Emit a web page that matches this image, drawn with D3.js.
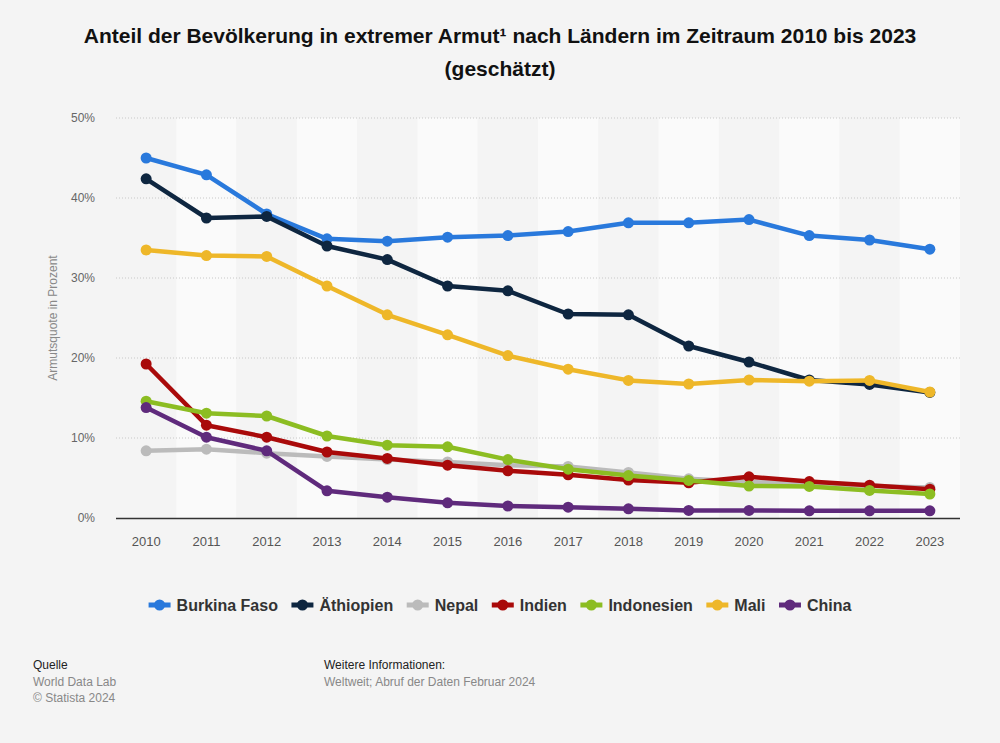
<!DOCTYPE html>
<html><head><meta charset="utf-8">
<script src="https://cdn.jsdelivr.net/npm/d3@7"></script>
<style>
body{margin:0;background:#f4f4f4;}
svg{display:block;font-family:"Liberation Sans",Arial,sans-serif;}
</style></head>
<body>
<svg id="c" width="1000" height="743"></svg>
<script>
const years = [2010,2011,2012,2013,2014,2015,2016,2017,2018,2019,2020,2021,2022,2023];
const seriesNames = ["Burkina Faso","Äthiopien","Nepal","Indien","Indonesien","Mali","China"];
const seriesColors = ["#2979dc","#0e2640","#bbbbbb","#a90a0a","#8cbd22","#eeb729","#5f2a7c"];
const burkinaFaso = [45.0,42.9,38.0,34.9,34.6,35.1,35.3,35.8,36.9,36.9,37.3,35.3,34.75,33.6];
const aethiopien = [42.4,37.5,37.7,34.0,32.3,29.0,28.4,25.5,25.4,21.5,19.5,17.25,16.7,15.7];
const nepal = [8.4,8.6,8.1,7.7,7.3,7.0,6.6,6.45,5.7,4.9,4.5,4.3,4.0,3.8];
const indien = [19.25,11.6,10.1,8.25,7.45,6.6,5.9,5.4,4.75,4.4,5.15,4.55,4.1,3.6];
const indonesien = [14.6,13.1,12.75,10.25,9.1,8.9,7.3,6.1,5.3,4.7,4.0,3.95,3.45,3.0];
const mali = [33.5,32.8,32.7,29.0,25.4,22.9,20.3,18.6,17.2,16.75,17.25,17.1,17.2,15.75];
const china = [13.8,10.1,8.4,3.4,2.6,1.9,1.5,1.35,1.15,0.95,0.95,0.9,0.9,0.9];
const yTicks = [0,10,20,30,40,50];
const titleLines = ["Anteil der Bevölkerung in extremer Armut¹ nach Ländern im Zeitraum 2010 bis 2023","(geschätzt)"];
const yLabel = "Armutsquote in Prozent";

const allSeries = [burkinaFaso,aethiopien,nepal,indien,indonesien,mali,china];
const svg = d3.select("#c");
const L = 116, R = 960, T = 118, B = 518;

const x = d3.scaleBand().domain(years).range([L,R]).padding(0);
const y = d3.scaleLinear().domain([0,50]).range([B,T]);

// background bands
svg.append("g").selectAll("rect").data(years).join("rect")
  .attr("x", d=>x(d)).attr("y", T).attr("width", x.bandwidth()).attr("height", B-T)
  .attr("fill", (d,i)=> i%2===1 ? "#fafafa" : "#f4f4f4");

// gridlines
svg.append("g").selectAll("line").data(yTicks.filter(d=>d>0)).join("line")
  .attr("x1", L).attr("x2", R).attr("y1", d=>y(d)).attr("y2", d=>y(d))
  .attr("stroke","#c8c8c8").attr("stroke-width",1).attr("stroke-dasharray","1,2");

// y axis
const yAxis = d3.axisLeft(y).tickValues(yTicks).tickFormat(d=>d+"%").tickSize(0).tickPadding(0);
const gy = svg.append("g").attr("transform",`translate(${95},0)`).call(yAxis);
gy.select(".domain").remove();
gy.selectAll("text").attr("fill","#666").style("font-size","12px");

// x axis
const xAxis = d3.axisBottom(x).tickSize(0).tickPadding(0);
const gx = svg.append("g").attr("transform",`translate(0,${B})`).call(xAxis);
gx.select(".domain").remove();
gx.selectAll("text").attr("fill","#555").attr("dy","0").attr("y",28).style("font-size","13px");
svg.append("line").attr("x1",L).attr("x2",R).attr("y1",B+0.5).attr("y2",B+0.5)
  .attr("stroke","#333").attr("stroke-width",1.5);

// y label
svg.append("text").attr("transform",`translate(57,${318}) rotate(-90)`)
  .attr("text-anchor","middle").attr("fill","#888").style("font-size","12px").text(yLabel);

// lines
const cx = d=>x(d)+x.bandwidth()/2;
const line = d3.line().x((d,i)=>cx(years[i])).y(d=>y(d));
allSeries.forEach((s,k)=>{
  const g = svg.append("g");
  g.append("path").datum(s).attr("d",line).attr("fill","none")
    .attr("stroke",seriesColors[k]).attr("stroke-width",4.5).attr("stroke-linejoin","round");
  g.selectAll("circle").data(s).join("circle")
    .attr("cx",(d,i)=>cx(years[i])).attr("cy",d=>y(d)).attr("r",5.5).attr("fill",seriesColors[k]);
});

// title
svg.append("g").selectAll("text").data(titleLines).join("text")
  .attr("x",500).attr("y",(d,i)=>43+i*33).attr("text-anchor","middle")
  .attr("fill","#111").style("font-size","21px").style("font-weight","bold").text(d=>d);

// legend
const lg = svg.append("g");
const items = seriesNames.map((n,k)=>{
  const g = lg.append("g");
  g.append("line").attr("x1",0).attr("x2",22).attr("y1",0).attr("y2",0)
    .attr("stroke",seriesColors[k]).attr("stroke-width",5);
  g.append("circle").attr("cx",11).attr("cy",0).attr("r",5.5).attr("fill",seriesColors[k]);
  const t = g.append("text").attr("x",28).attr("y",5.5).attr("fill","#333")
    .style("font-size","16px").style("font-weight","bold").text(n);
  return {g, w: 28 + t.node().getComputedTextLength()};
});
const gap = 13.5;
const total = d3.sum(items,d=>d.w) + gap*(items.length-1);
let lx = 500 - total/2;
items.forEach(it=>{ it.g.attr("transform",`translate(${lx},605)`); lx += it.w + gap; });

// footer
const f = svg.append("g").style("font-size","12px");
f.append("text").attr("x",33).attr("y",669).attr("fill","#222").text("Quelle");
f.append("text").attr("x",33).attr("y",686).attr("fill","#888").text("World Data Lab");
f.append("text").attr("x",33).attr("y",702).attr("fill","#888").text("© Statista 2024");
f.append("text").attr("x",324).attr("y",669).attr("fill","#222").text("Weitere Informationen:");
f.append("text").attr("x",324).attr("y",686).attr("fill","#888").text("Weltweit; Abruf der Daten Februar 2024");
</script>
</body></html>
